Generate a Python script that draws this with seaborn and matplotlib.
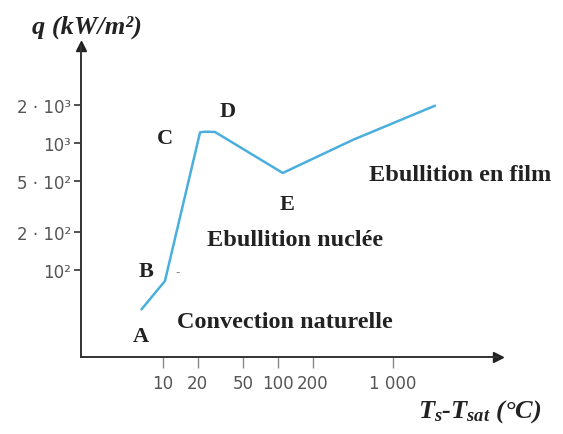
import numpy as np
import pandas as pd
import matplotlib
matplotlib.use("Agg")
import matplotlib.pyplot as plt
import seaborn as sns

# ---- data ----
delta_t = [6.5, 10.4, 21.0, 23.2, 28.3, 110.0, 449.0, 2317.0]
heat_flux = [49.0, 82.0, 1213.0, 1228.0, 1222.0, 581.0, 1060.0, 1967.0]

x_ticks = [10, 20, 50, 100, 200, 1000]
x_tick_labels = ["10", "20", "50", "100", "200", "1 000"]
y_ticks = [100, 200, 500, 1000, 2000]
y_tick_labels = ["10²", "2 · 10²", "5 · 10²", "10³", "2 · 10³"]

point_names = ["A", "B", "C", "D", "E"]
point_x = [6.4, 7.1, 10.4, 36.7, 120.0]
point_y = [30.2, 98.0, 1094.0, 1786.0, 331.0]

region_names = ["Convection naturelle", "Ebullition nuclée", "Ebullition en film"]
region_x = [115.0, 141.0, 3828.0]
region_y = [39.0, 175.0, 570.0]

sns.set_theme(style="white")
plt.rcParams["font.family"] = ["DejaVu Sans"]
plt.rcParams["mathtext.fontset"] = "custom"
plt.rcParams["mathtext.it"] = "Liberation Serif:italic:bold"
plt.rcParams["mathtext.rm"] = "Liberation Serif:bold"

df = pd.DataFrame({"dT": delta_t, "q": heat_flux})

fig = plt.figure(figsize=(5.63, 4.35), dpi=100)
ax = fig.add_axes([81 / 563, 77 / 435, (498 - 81) / 563, (388 - 77) / 435])

sns.lineplot(data=df, x="dT", y="q", sort=False, color="#4AAFDD", linewidth=1.8, ax=ax)
ax.set_xscale("log")
ax.set_yscale("log")
ax.set_xlim(10 ** 0.287, 10 ** 3.913)
ax.set_ylim(10 ** 1.315, 10 ** 3.764)

tick_family = ["Liberation Sans Narrow", "DejaVu Sans"]
ax.minorticks_off()
ax.set_xticks(x_ticks)
ax.set_xticklabels(x_tick_labels, family=tick_family)
ax.set_yticks(y_ticks)
ax.set_yticklabels(y_tick_labels, family=tick_family)
ax.tick_params(axis="x", direction="out", length=8, width=1.0, color="#888888",
               labelsize=12, labelcolor="#555555", pad=4, bottom=True)
ax.tick_params(axis="y", direction="out", length=5, width=1.2, color="#333333",
               labelsize=12, labelcolor="#555555", pad=2, left=True)

for s in ["top", "right"]:
    ax.spines[s].set_visible(False)
for s in ["left", "bottom"]:
    ax.spines[s].set_color("#333333")
    ax.spines[s].set_linewidth(1.4)
ax.set_xlabel("")
ax.set_ylabel("")

# arrow heads
ax.plot(1, 0, marker=">", color="#222222", markersize=7, transform=ax.transAxes, clip_on=False)
ax.plot(0, 1, marker="^", color="#222222", markersize=7, transform=ax.transAxes, clip_on=False)

serif = "Liberation Serif"
for n, x, y in zip(point_names, point_x, point_y):
    ax.text(x, y, n, family=serif, fontweight="bold", fontsize=16, color="#222222",
            ha="center", va="center")
for n, x, y in zip(region_names, region_x, region_y):
    ax.text(x, y, n, family=serif, fontweight="bold", fontsize=17.5, color="#222222",
            ha="center", va="center")
ax.text(13.5, 98.0, "-", fontsize=9, color="#888888", ha="center", va="center")

fig.text(87 / 563, 1 - 27 / 435, "q (kW/m²)", family=serif, fontstyle="italic",
         fontweight="bold", fontsize=19, color="#222222", ha="center", va="center")
fig.text(480 / 563, 1 - 412 / 435, "$T_s$-$T_{sat}$ (°C)", family=serif, fontstyle="italic",
         fontweight="bold", fontsize=19, color="#222222", ha="center", va="center")

fig.savefig("out.png", dpi=100)
